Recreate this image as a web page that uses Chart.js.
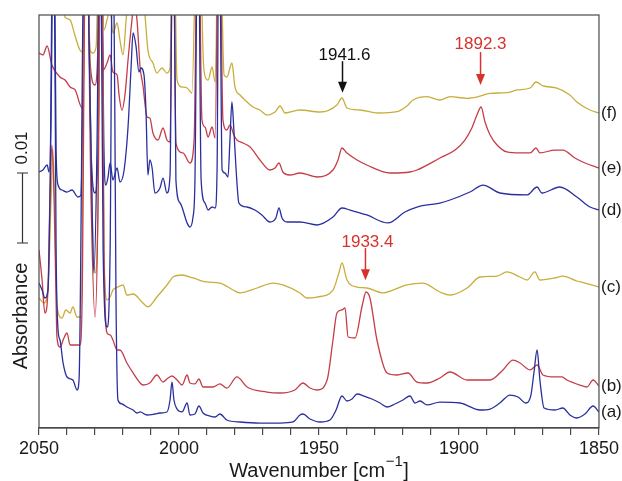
<!DOCTYPE html>
<html><head><meta charset="utf-8">
<script src="https://cdn.jsdelivr.net/npm/chart.js@4.4.1/dist/chart.umd.min.js"></script>
<style>html,body{margin:0;padding:0;background:#fff}canvas{display:block}</style>
</head><body>
<canvas id="c" width="622" height="481"></canvas>
<script>
// ---- data: wavenumber (cm-1) and absorbance (mAbs, offset traces) ----
const xTickLabels = [2050, 2000, 1950, 1900, 1850];
const traceLabels = ['(a)', '(b)', '(c)', '(d)', '(e)', '(f)'];

const aWn = [2050,2048.9,2047.9,2046.8,2046.1,2044.8,2043.9,2043.2,2042.5,2041.4,2040,2037.9,2036.4,2035.7,2033.6,2031.4,2030.4,2029.3,2028.2,2027.1,2025.7,2024.6,2023.6,2022.5,2021.8,2020.4,2018.6,2016.4,2015,2013.9,2011.4,2008.6,2006.8,2004.3,2003.2,2002.5,2001.8,2000.7,1998.9,1997.1,1996.1,1994.3,1992.9,1991.4,1988.9,1987.1,1985.4,1982.9,1978.2,1971.1,1963.9,1959.3,1956.8,1955.7,1953.2,1949.6,1946.1,1943.9,1941.8,1940,1938.2,1936.4,1933.9,1931.1,1928.2,1925.7,1922.9,1920,1917.5,1915.7,1913.9,1911.4,1906.8,1899.6,1892.5,1888.9,1885.4,1881.8,1878.9,1876.1,1874.3,1873.2,1872.1,1871.1,1869.6,1865.7,1862.9,1860.4,1857.9,1855,1852.1,1850];
const aAbs = [20.71,19.71,18.57,19.71,32.57,80,25.43,14.0,12.57,9.29,7.29,6.86,5.43,6.86,80,39.71,22.14,39.71,80,25.43,14.43,25.43,80,18.29,4.0,3.43,3.0,2.57,2.14,2.29,1.86,2.0,2.14,2.29,4.0,6.57,4.0,2.71,2.29,3.57,1.86,2.0,3.14,2.14,1.71,1.57,2.0,1.14,0.86,0.71,0.71,0.86,1.86,2.0,1.29,0.86,1.14,2.57,4.57,3.86,4.14,4.86,4.57,4.14,3.57,3.0,3.43,4.0,4.57,3.57,3.86,3.29,3.71,3.57,2.57,2.71,3.57,4.71,4.43,3.57,4.71,8.0,11.14,6.86,2.86,2.57,2.86,1.86,1.43,2.0,3.14,2.29];

const bWn = [2050,2048.9,2047.9,2046.8,2046.1,2045.4,2044.6,2043.9,2043.6,2042.5,2041.1,2040,2038.9,2035.4,2034.6,2033.2,2031.4,2030,2028.9,2027.9,2026.8,2025.7,2024.6,2023.6,2022.1,2021.1,2018.6,2016.4,2013.9,2012.9,2010.4,2007.9,2005.7,2003.9,2002.5,2000.7,1998.9,1997.1,1996.1,1994.3,1992.9,1991.4,1987.9,1985.4,1982.9,1979.3,1975.7,1968.6,1963.9,1958.6,1955.7,1953.2,1950.7,1947.1,1945,1943.6,1941.8,1940.7,1939.6,1937.1,1934.6,1933.2,1931.8,1929.3,1925.7,1922.1,1918.2,1915,1911.4,1906.8,1903.2,1897.1,1888.9,1884.3,1880.7,1878.2,1874.6,1872.1,1870,1865.7,1863.2,1861.4,1856.8,1854.3,1852.1,1850];
const bAbs = [25.43,21.14,16.43,19.71,32.57,40.43,32.57,18.29,13.0,11.57,12.86,13.57,11.86,11.86,18.29,80,32.57,15.86,32.57,80,25.43,13.57,13.29,12.57,11.14,11.14,9.29,7.86,6.43,6.14,6.43,7.57,6.57,7.14,7.43,6.86,6.14,7.57,6.43,6.29,7.0,5.86,5.86,6.29,5.71,7.29,5.86,5.14,5.0,5.43,6.43,5.71,5.43,6.86,12.57,16.43,16.86,17.14,13.0,12.86,17.43,19.43,18.57,12.57,7.86,7.57,7.86,6.57,6.43,7.14,8.0,6.86,6.86,8.29,9.71,9.29,8.29,9.0,7.57,7.29,7.29,6.86,6.14,5.86,6.86,6.0];

const cWn = [2050,2048.2,2046.8,2045.7,2045,2044.3,2043.6,2041.8,2040.4,2038.9,2037.9,2036.4,2035,2033.2,2031.1,2030,2028.9,2027.9,2026.8,2025.7,2024.6,2023.6,2021.8,2020,2018.6,2016.4,2012.9,2011.1,2007.9,2004.3,2002.1,1998.9,1995,1990,1985.4,1980.7,1978.2,1972.1,1966.4,1962.9,1956.8,1954.3,1950.7,1945,1942.9,1941.8,1940,1936.4,1932.9,1927.1,1923.6,1918.6,1912.9,1906.8,1903.2,1897.1,1892.5,1886.4,1882.9,1878.2,1875.7,1872.9,1871.1,1865.7,1862.9,1857.9,1855,1850];
const cAbs = [18.57,17.86,19.71,32.57,39.71,29.71,17.57,15.71,16.86,16.43,17.29,15.86,15.86,80,32.57,22.14,32.57,80,25.43,18.29,18.71,19.71,20.14,20.43,19.0,19.14,17.86,17.29,18.71,20.43,21.57,21.86,21.43,20.86,20.71,19.71,19.29,20.0,20.71,20.43,19.29,18.57,18.71,19.71,22.14,23.57,21.14,20.14,20.0,19.29,19.71,20.43,20.71,19.43,19.0,20.0,21.57,21.71,22.29,21.57,21.14,22.29,21.14,21.43,21.71,21.0,20.71,20.14];

const dWn = [2050,2048.6,2047.1,2046.4,2045.7,2044.8,2043.9,2043.2,2041.8,2040,2038.2,2036.1,2035,2033.2,2031.4,2030,2028.9,2027.9,2026.8,2026.1,2025.4,2024.6,2023.6,2022.1,2021.1,2019.6,2018.2,2017.1,2016.4,2015.4,2014.3,2013.6,2012.5,2011.8,2011.1,2010.4,2009.6,2008.6,2006.8,2005.7,2004.3,2003.2,2002.1,2001.1,1999.6,1997.1,1996.1,1995,1994.3,1993.2,1992.1,1990.7,1989.6,1988.2,1987.1,1986.4,1985.7,1984.6,1983.6,1982.5,1981.8,1981.1,1980.4,1979.6,1978.6,1975.7,1972.9,1970.4,1967.5,1965.4,1964.3,1963.2,1961.4,1956.8,1950.7,1945,1941.8,1938.9,1932.9,1925.4,1919.3,1915,1906.8,1903.2,1896.1,1891.4,1885.4,1875.7,1872.1,1870.4,1864,1857.9,1853.2,1850];
const dAbs = [36.57,36.86,37.57,36.57,44.0,80,39.71,34.71,34.0,33.71,34.0,33.0,33.29,80,39.71,33.57,39.71,80,39.71,34.71,35.71,37.86,35.43,37.14,35.14,36.86,43.0,51.57,56.43,54.71,50.86,51.43,50.43,45.43,36.14,38.29,37.14,33.57,34.29,35.71,33.57,36.14,80,35.43,32.14,29.29,28.71,30.14,35.43,80,35.43,32.14,31.14,31.57,31.43,36.86,80,36.86,36.43,35.86,41.14,46.57,42.57,36.86,32.14,31.57,31.14,30.43,29.43,30.0,31.43,30.0,29.43,29.43,29.0,30.14,31.43,31.14,30.43,29.29,30.86,31.57,32.14,32.57,33.71,34.71,33.57,33.29,34.43,33.57,34.43,33.0,31.57,31.14];

const eWn = [2050,2048.6,2047.1,2045.4,2042.5,2040.7,2038.9,2037.1,2034.6,2033.9,2033.2,2031.8,2030,2028.9,2028,2027.1,2025.7,2024.6,2023.6,2022.1,2021.4,2020.4,2019.3,2018.2,2016.8,2016.1,2015,2013.9,2012.9,2011.4,2010.4,2009.3,2007.5,2005.7,2004.3,2003.2,2002.1,2001.1,1998.6,1996.1,1994.6,1993.2,1991.8,1990.7,1989.6,1988.2,1987.1,1985.7,1984.3,1982.9,1981.8,1980.4,1979.3,1977.1,1974.6,1971.1,1967.5,1965.7,1964.3,1962.9,1960.4,1956.8,1950.7,1945,1943.2,1941.8,1940,1936.4,1932.9,1924.6,1917.5,1915,1906.8,1901.4,1897.9,1895.4,1893.6,1892.1,1890.7,1888.9,1886.4,1882.9,1878.2,1874.6,1872.5,1871.1,1865.7,1862.9,1858.6,1855,1850];
const eAbs = [53.57,53.29,54.57,51.86,50.14,49.71,48.71,48.29,45.71,54.0,80,52.57,49.0,55.43,80,51.14,52.14,53.29,50.86,50.43,47.57,45.43,47.57,52.57,58.29,60.43,58.29,51.57,49.0,44.43,44.29,42.14,41.14,42.86,41.14,40.86,80,40.71,39.29,37.86,41.14,80,44.0,43.0,41.57,43.0,41.43,80,44.0,42.57,43.29,41.86,41.14,40.71,40.14,38.29,36.86,37.14,37.86,36.57,36.14,36.43,35.86,36.86,38.29,40.0,39.29,38.29,37.57,36.43,36.57,36.86,38.57,39.71,41.14,42.86,44.71,45.86,43.71,41.86,40.43,39.43,39.29,39.29,40.0,39.29,39.71,39.71,38.57,37.86,37.14];

const fWn = [2050,2044.3,2041.8,2040.7,2038.9,2037.1,2035.4,2034.3,2033.2,2031.8,2030.7,2029.6,2028.2,2026.8,2025.7,2024.6,2023.6,2022.1,2021.1,2020,2018.9,2017.5,2013.9,2012.1,2011.1,2009.3,2007.9,2006.1,2004.3,2003.2,2002.1,2000.7,1998.9,1997.1,1995.4,1993.2,1991.1,1989.6,1988.2,1987.1,1985.7,1983.9,1982.9,1981.1,1980,1978.2,1975.7,1973.6,1971.1,1968.6,1965.7,1963.9,1962.1,1956.8,1949.6,1943.6,1941.8,1940,1935.4,1928.9,1922.1,1918.6,1916.4,1911.4,1906.8,1903.2,1897.1,1893.2,1888.9,1882.9,1879.3,1874.6,1872.5,1870,1865,1860.4,1857.9,1853.2,1850];
const fAbs = [62,64,61,58.71,58.29,56.0,54.0,53.71,80,54.0,53.57,54.43,80,56.86,58.29,59.71,56.43,57.86,55.43,53.29,58.29,65,65,58.71,54.0,52.14,50.71,51.43,50.71,51.43,80,49.71,48.71,48.57,47.86,80,51.14,49.71,51.57,49.43,80,50.43,50.14,52.14,48.71,47.57,46.57,45.86,45.43,44.71,45.14,46.0,45.0,45.43,45.14,46.14,47.14,45.71,45.43,45.0,45.19,46.0,46.86,47.33,46.86,47.33,47.1,47.33,47.81,47.9,48.29,48.57,49.43,48.86,48.57,47.57,46.57,45.43,45.0];

// peak annotations: wavenumber, label
const peakWn = [1941.6, 1892.3, 1933.4];
const peakText = ['1941.6', '1892.3', '1933.4'];
// scale bar: 0.01 absorbance = 10 mAbs
const scaleBarValue = 10;
const scaleBarText = '0.01';

// ---- styles / layout ----
const FONT = "'Liberation Sans', Arial, Helvetica, sans-serif";
const BLUE = '#2a2f9e', RED = '#c43d48', YEL = '#c8ae3c';
const seriesDefs = [
  {wn: aWn, abs: aAbs, color: BLUE},
  {wn: bWn, abs: bAbs, color: RED},
  {wn: cWn, abs: cAbs, color: YEL},
  {wn: dWn, abs: dAbs, color: BLUE},
  {wn: eWn, abs: eAbs, color: RED},
  {wn: fWn, abs: fAbs, color: YEL}
];
const peakStyle = [
  {color: '#111111', textAt: 52.6, from: 52.4, to: 47.9, dx: 2},
  {color: '#d8322c', textAt: 54.1, from: 53.7, to: 49.0, dx: 0},
  {color: '#d8322c', textAt: 25.9, from: 25.7, to: 21.1, dx: 2}
];
const barBase = 26.43;

const decor = {
  id: 'decor',
  afterDraw(chart) {
    const {ctx, chartArea: ca, scales: {x, y}} = chart;
    ctx.save();
    ctx.strokeStyle = '#4a4a4a'; ctx.lineWidth = 1.2;
    ctx.strokeRect(ca.left, ca.top, ca.right - ca.left, ca.bottom - ca.top);

    peakWn.forEach((w, i) => {
      const st = peakStyle[i];
      const px = x.getPixelForValue(w);
      const yT = y.getPixelForValue(st.textAt);
      const y0 = y.getPixelForValue(st.from);
      const y1 = y.getPixelForValue(st.to);
      ctx.fillStyle = st.color; ctx.strokeStyle = st.color;
      ctx.font = '17px ' + FONT;
      ctx.textAlign = 'center'; ctx.textBaseline = 'alphabetic';
      ctx.fillText(peakText[i], px + st.dx, yT);
      ctx.lineWidth = 1.5;
      ctx.beginPath(); ctx.moveTo(px, y0); ctx.lineTo(px, y1 - 8); ctx.stroke();
      ctx.beginPath();
      ctx.moveTo(px - 4.5, y1 - 11); ctx.lineTo(px + 4.5, y1 - 11); ctx.lineTo(px, y1); ctx.closePath();
      ctx.fill();
    });

    ctx.fillStyle = '#1a1a1a';
    ctx.font = '17px ' + FONT;
    ctx.textAlign = 'left'; ctx.textBaseline = 'middle';
    seriesDefs.forEach((s, i) => {
      const v = s.abs[s.abs.length - 1];
      ctx.fillText(traceLabels[i], ca.right + 2, y.getPixelForValue(v));
    });

    const yb = y.getPixelForValue(barBase);
    const yt = y.getPixelForValue(barBase + scaleBarValue);
    const bx = 22.5;
    ctx.strokeStyle = '#333'; ctx.lineWidth = 1.2;
    ctx.beginPath();
    ctx.moveTo(bx, yb); ctx.lineTo(bx, yt);
    ctx.moveTo(bx - 5.5, yb); ctx.lineTo(bx + 5.5, yb);
    ctx.moveTo(bx - 5.5, yt); ctx.lineTo(bx + 5.5, yt);
    ctx.stroke();
    ctx.fillStyle = '#1a1a1a';
    ctx.textAlign = 'center'; ctx.textBaseline = 'alphabetic';
    ctx.save();
    ctx.translate(27, yt - 25); ctx.rotate(-Math.PI / 2);
    ctx.font = '17px ' + FONT; ctx.fillText(scaleBarText, 0, 0);
    ctx.restore();
    ctx.save();
    ctx.translate(27, yb + 73); ctx.rotate(-Math.PI / 2);
    ctx.font = '20px ' + FONT; ctx.fillText('Absorbance', 0, 0);
    ctx.restore();

    const main1 = 'Wavenumber [cm', sup = '\u22121', main2 = ']';
    ctx.font = '20px ' + FONT; const w1 = ctx.measureText(main1).width, w3 = ctx.measureText(main2).width;
    ctx.font = '15px ' + FONT; const w2 = ctx.measureText(sup).width;
    const total = w1 + w2 + w3 + 1;
    let tx = (ca.left + ca.right) / 2 - total / 2;
    const base = 477;
    ctx.textAlign = 'left';
    ctx.font = '20px ' + FONT; ctx.fillText(main1, tx, base); tx += w1 + 0.5;
    ctx.font = '15px ' + FONT; ctx.fillText(sup, tx, base - 11); tx += w2 + 0.5;
    ctx.font = '20px ' + FONT; ctx.fillText(main2, tx, base);
    ctx.restore();
  }
};

new Chart(document.getElementById('c'), {
  type: 'line',
  data: {
    datasets: seriesDefs.map((s, i) => ({
      label: traceLabels[i],
      data: s.wn.map((w, j) => ({x: w, y: s.abs[j]})),
      borderColor: s.color,
      borderWidth: 1.3,
      pointRadius: 0,
      fill: false,
      cubicInterpolationMode: 'monotone'
    }))
  },
  options: {
    responsive: false,
    animation: false,
    devicePixelRatio: 1,
    layout: {padding: {left: 39, right: 23, top: 15, bottom: 0}},
    plugins: {legend: {display: false}, tooltip: {enabled: false}},
    scales: {
      x: {
        type: 'linear', reverse: true, min: 1850, max: 2050,
        afterFit(scale) { scale.height = 53; },
        grid: {display: true, drawOnChartArea: false, drawTicks: true, tickLength: 7, color: '#4a4a4a', lineWidth: 1.2},
        border: {display: true, color: '#4a4a4a', width: 1.2},
        ticks: {
          stepSize: 10, autoSkip: false, maxRotation: 0, minRotation: 0, padding: 3,
          color: '#1a1a1a', font: {family: FONT, size: 18},
          callback: (v) => xTickLabels.includes(v) ? String(v) : ''
        }
      },
      y: {display: false, min: 0, max: 59}
    }
  },
  plugins: [decor]
});
</script>
</body></html>
